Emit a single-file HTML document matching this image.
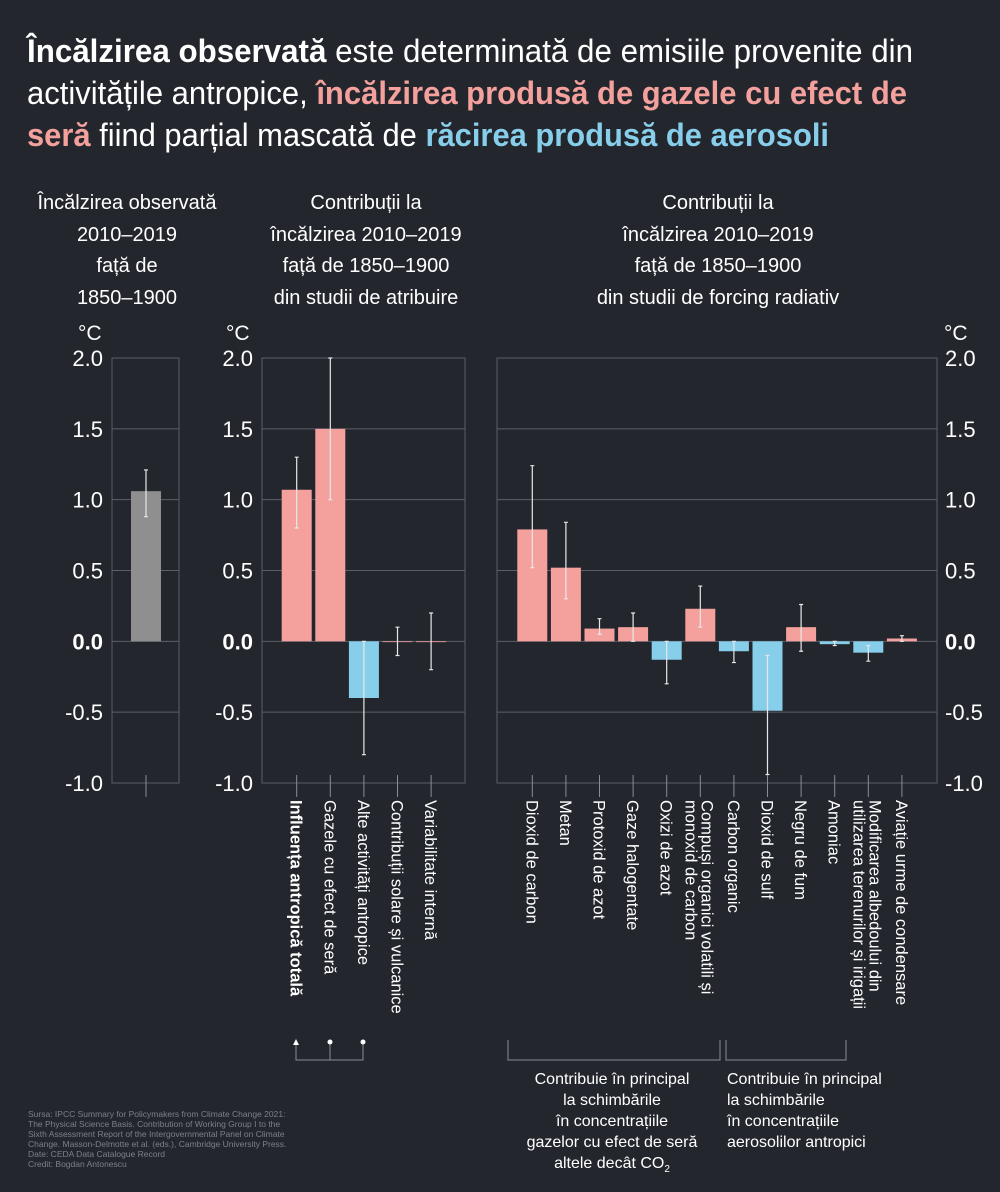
<!DOCTYPE html>
<html><head><meta charset="utf-8"><style>
html,body{margin:0;padding:0;background:#23262d;}
svg{display:block;font-family:"Liberation Sans",sans-serif;}
</style></head><body>
<svg id="chart" width="1000" height="1192" viewBox="0 0 1000 1192" xmlns="http://www.w3.org/2000/svg">
<rect width="1000" height="1192" fill="#23262d"/>
<g font-size="32" fill="#ffffff">
<text x="27" y="62" textLength="886" lengthAdjust="spacingAndGlyphs"><tspan font-weight="bold">Încălzirea observată</tspan> este determinată de emisiile provenite din</text>
<text x="27" y="104" textLength="880" lengthAdjust="spacingAndGlyphs">activitățile antropice, <tspan font-weight="bold" fill="#f4a09c">încălzirea produsă de gazele cu efect de</tspan></text>
<text x="27" y="146" textLength="802" lengthAdjust="spacingAndGlyphs"><tspan font-weight="bold" fill="#f4a09c">seră</tspan> fiind parțial mascată de <tspan font-weight="bold" fill="#87ceeb">răcirea produsă de aerosoli</tspan></text>
</g>
<g font-size="20" fill="#ffffff" text-anchor="middle">
<text x="127" y="209">Încălzirea observată</text><text x="127" y="241">2010–2019</text><text x="127" y="272">față de</text><text x="127" y="304">1850–1900</text>
<text x="366" y="209">Contribuții la</text><text x="366" y="241">încălzirea 2010–2019</text><text x="366" y="272">față de 1850–1900</text><text x="366" y="304">din studii de atribuire</text>
<text x="718" y="209">Contribuții la</text><text x="718" y="241">încălzirea 2010–2019</text><text x="718" y="272">față de 1850–1900</text><text x="718" y="304">din studii de forcing radiativ</text>
</g>
<g font-size="21" fill="#ffffff">
<text x="78" y="340">°C</text><text x="226" y="340">°C</text><text x="944" y="340">°C</text>
</g>
<g id="plot"></g>
<g stroke="#8a8d93" stroke-width="1" fill="none">
<path d="M296 1044 V1060 H363 V1042 M330 1042 V1060"/>
<path d="M508 1040 V1060 H720 V1040"/>
<path d="M726 1040 V1060 H846 V1040"/>
</g>
<g fill="#ffffff">
<path d="M296 1039 l-3 6 h6 z"/><circle cx="330" cy="1042" r="2.5"/><circle cx="363" cy="1042" r="2.5"/>
</g>
<g font-size="16" fill="#ffffff" text-anchor="middle">
<text x="612" y="1084">Contribuie în principal</text><text x="612" y="1105">la schimbările</text><text x="612" y="1126">în concentrațiile</text><text x="612" y="1147">gazelor cu efect de seră</text><text x="612" y="1168">altele decât CO<tspan font-size="10" dy="4">2</tspan></text>
</g>
<g font-size="16" fill="#ffffff">
<text x="727" y="1084">Contribuie în principal</text><text x="727" y="1105">la schimbările</text><text x="727" y="1126">în concentrațiile</text><text x="727" y="1147">aerosolilor antropici</text>
</g>
<g font-size="8.5" fill="#7d8088">
<text x="28" y="1117">Sursa: IPCC Summary for Policymakers from Climate Change 2021:</text>
<text x="28" y="1127">The Physical Science Basis. Contribution of Working Group I to the</text>
<text x="28" y="1137">Sixth Assessment Report of the Intergovernmental Panel on Climate</text>
<text x="28" y="1147">Change. Masson-Delmotte et al. (eds.), Cambridge University Press.</text>
<text x="28" y="1157">Date: CEDA Data Catalogue Record</text>
<text x="28" y="1167">Credit: Bogdan Antonescu</text>
</g>
</svg>
<script>
const yTicks = [2.0, 1.5, 1.0, 0.5, 0.0, -0.5, -1.0];
const yTickLabels = ["2.0", "1.5", "1.0", "0.5", "0.0", "-0.5", "-1.0"];
const obsCategories = [""];
const obsValues = [1.06];
const obsLow = [0.88];
const obsHigh = [1.21];
const attrCategories = ["Influența antropică totală", "Gazele cu efect de seră", "Alte activități antropice", "Contribuții solare și vulcanice", "Variabilitate internă"];
const attrValues = [1.07, 1.50, -0.40, 0.0, 0.0];
const attrLow = [0.80, 1.00, -0.80, -0.10, -0.20];
const attrHigh = [1.30, 2.00, 0.00, 0.10, 0.20];
const rfCategories = ["Dioxid de carbon", "Metan", "Protoxid de azot", "Gaze halogentate", "Oxizi de azot", "Compuși organici volatili și|monoxid de carbon", "Carbon organic", "Dioxid de sulf", "Negru de fum", "Amoniac", "Modificarea albedoului din|utilizarea terenurilor și irigații", "Aviație urme de condensare"];
const rfValues = [0.79, 0.52, 0.09, 0.10, -0.13, 0.23, -0.07, -0.49, 0.10, -0.02, -0.08, 0.02];
const rfLow = [0.52, 0.30, 0.05, 0.00, -0.30, 0.10, -0.15, -0.94, -0.07, -0.03, -0.14, 0.00];
const rfHigh = [1.24, 0.84, 0.16, 0.20, 0.00, 0.39, 0.00, -0.10, 0.26, 0.00, -0.03, 0.04];

const NS = "http://www.w3.org/2000/svg";
const plot = document.getElementById("plot");
const Y0 = 358, Y1 = 783, VMAX = 2, VMIN = -1;
function y(v){ return Y0 + (VMAX - v) / (VMAX - VMIN) * (Y1 - Y0); }
function mk(tag, attrs, parent){ const e = document.createElementNS(NS, tag); for (const k in attrs) e.setAttribute(k, attrs[k]); (parent||plot).appendChild(e); return e; }

function panel(name, x0, x1, firstCenter, step, cats, vals, lo, hi, colorFn, axisSide, axisX){
  const g = mk("g", {});
  
  
  yTicks.forEach((t, i) => {
    const gl = mk("line", {x1: x0, x2: x1, y1: y(t), y2: y(t), stroke: "#5b5f67", "stroke-width": 1}, g);
    
    
    if (axisSide) {
      const tl = mk("text", {x: axisX, y: y(t) + 8, fill: "#ffffff", "font-size": 22, "text-anchor": axisSide === "left" ? "end" : "start", "font-weight": t === 0 ? "bold" : "normal"}, g);
      tl.textContent = yTickLabels[i];
      
      
    }
  });
  const fr = mk("rect", {x: x0, y: Y0, width: x1 - x0, height: Y1 - Y0, fill: "none", stroke: "#5b5f67", "stroke-width": 1}, g);
  
  
  cats.forEach((c, i) => {
    const cx = firstCenter + i * step, bw = 30;
    const v = vals[i];
    const top = Math.min(y(v), y(0)), h = Math.max(Math.abs(y(v) - y(0)), 0.8);
    const b = mk("rect", {x: cx - bw/2, y: top, width: bw, height: h, fill: colorFn(v)}, g);
    
    
    const eb = mk("path", {d: `M${cx} ${y(hi[i])} V${y(lo[i])} M${cx-2} ${y(hi[i])} H${cx+2} M${cx-2} ${y(lo[i])} H${cx+2}`, stroke: "#e8e8e8", "stroke-width": 1.2, fill: "none"}, g);
    
    
    const tk = mk("line", {x1: cx, x2: cx, y1: Y1 - 8, y2: Y1 + 14, stroke: "#8a8d93", "stroke-width": 1}, g);
    
    
    if (c) {
      const lines = c.split("|");
      lines.forEach((ln, j) => {
        const lx = cx - 6 + (lines.length > 1 ? 7 : 0) - j * 16;
        const t = mk("text", {x: 0, y: 0, fill: "#ffffff", "font-size": 16.5, transform: `translate(${lx},${800}) rotate(90)`, "font-weight": (name === "attribution-panel" && i === 0) ? "bold" : "normal"}, g);
        t.textContent = ln;
        
        
      });
    }
  });
}
panel("observed-panel", 112, 179, 146, 33.6, obsCategories, obsValues, obsLow, obsHigh, () => "#8f8f8f", "left", 103);
panel("attribution-panel", 262, 465, 296.7, 33.6, attrCategories, attrValues, attrLow, attrHigh, v => v >= 0 ? "#f4a09c" : "#87ceeb", "left", 253);
panel("forcing-panel", 497, 937, 532.3, 33.6, rfCategories, rfValues, rfLow, rfHigh, v => v >= 0 ? "#f4a09c" : "#87ceeb", "right", 945);
</script>
</body></html>
